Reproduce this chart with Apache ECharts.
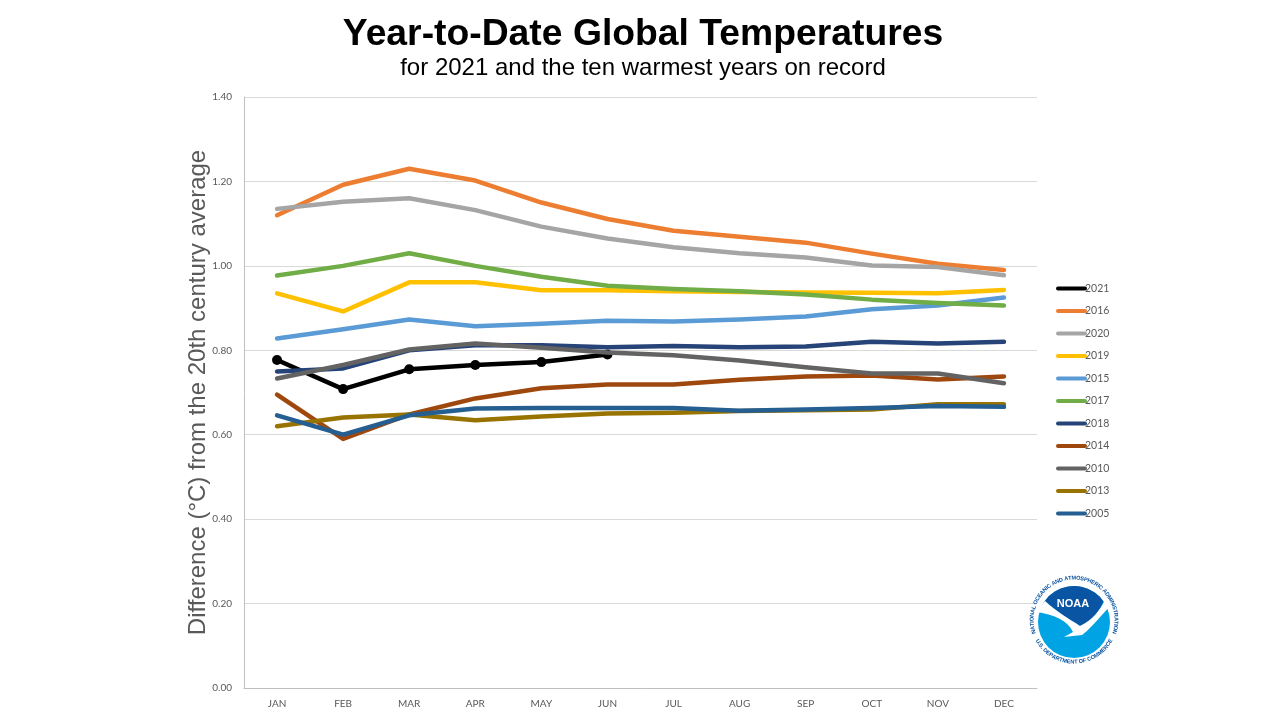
<!DOCTYPE html>
<html><head><meta charset="utf-8">
<style>html,body{margin:0;padding:0;background:#fff}#c{width:1280px;height:720px}</style>
<script src="https://cdn.jsdelivr.net/npm/echarts@6/dist/echarts.min.js"></script>
</head><body><div id="c"></div>
<script>
const months=['JAN','FEB','MAR','APR','MAY','JUN','JUL','AUG','SEP','OCT','NOV','DEC'];
const y2021=[0.777,0.708,0.755,0.765,0.772,0.79];
const y2016=[1.12,1.192,1.23,1.202,1.15,1.111,1.083,1.069,1.055,1.029,1.005,0.99];
const y2020=[1.135,1.152,1.16,1.132,1.093,1.065,1.044,1.03,1.02,1.001,0.997,0.978];
const y2019=[0.935,0.892,0.961,0.961,0.942,0.942,0.94,0.938,0.937,0.936,0.935,0.943];
const y2015=[0.828,0.85,0.873,0.857,0.863,0.87,0.868,0.873,0.88,0.897,0.906,0.925];
const y2017=[0.977,1.0,1.03,1.0,0.974,0.953,0.945,0.94,0.932,0.92,0.912,0.906];
const y2018=[0.75,0.757,0.8,0.812,0.812,0.807,0.81,0.807,0.809,0.82,0.816,0.82];
const y2014=[0.695,0.59,0.648,0.686,0.71,0.719,0.719,0.73,0.738,0.74,0.731,0.738];
const y2010=[0.733,0.765,0.802,0.816,0.806,0.795,0.788,0.776,0.76,0.745,0.745,0.722];
const y2013=[0.62,0.641,0.648,0.634,0.643,0.65,0.652,0.656,0.658,0.66,0.672,0.672];
const y2005=[0.646,0.6,0.646,0.662,0.663,0.663,0.663,0.657,0.66,0.663,0.668,0.666];
const seriesDefs=[['2021',y2021,'#000000'],['2016',y2016,'#ed7d31'],['2020',y2020,'#a5a5a5'],['2019',y2019,'#ffc000'],['2015',y2015,'#5b9bd5'],['2017',y2017,'#70ad47'],['2018',y2018,'#264478'],['2014',y2014,'#9e480e'],['2010',y2010,'#636363'],['2013',y2013,'#997300'],['2005',y2005,'#255e91']];
const topRing='NATIONAL OCEANIC AND ATMOSPHERIC ADMINISTRATION';
const bottomRing='U.S. DEPARTMENT OF COMMERCE';
const cx=1074,cy=620,ringR=42,logoBlue='#0a55a3',logoCyan='#00a3e4';
echarts.graphic.registerShape('noaaDome',echarts.graphic.extendShape({buildPath(c){
  c.moveTo(1045,601);c.arc(1074,622,36,Math.atan2(-21,-29),Math.atan2(-22,31));
  c.bezierCurveTo(1100,610,1093,620,1080,626);c.bezierCurveTo(1068,618,1058,613,1045,601);c.closePath();
}}));
echarts.graphic.registerShape('noaaBird',echarts.graphic.extendShape({buildPath(c){
  c.moveTo(1037,612);c.bezierCurveTo(1055,615,1067,620,1073,632);c.lineTo(1064,637);c.lineTo(1082,635);
  c.bezierCurveTo(1095,625,1103,612,1111,606);c.lineTo(1105,600);
  c.bezierCurveTo(1100,610,1093,620,1080,626);c.bezierCurveTo(1068,618,1058,613,1045,601);c.closePath();
}}));
function ringChars(){
  const out=[];
  const font='bold 5.6px "Liberation Sans"';
  const m=document.createElement('canvas').getContext('2d');m.font=font;
  const add=(str,a0,a1,bottom)=>{
    const chars=[...str];
    const w=chars.map(ch=>m.measureText(ch).width);
    const total=w.reduce((s,v)=>s+v,0);
    let acc=0;
    chars.forEach((ch,i)=>{
      const a=a0+(a1-a0)*(acc+w[i]/2)/total;acc+=w[i];
      out.push({type:'text',x:cx+ringR*Math.cos(a),y:cy+ringR*Math.sin(a),rotation:bottom?-(a-Math.PI/2):-(a+Math.PI/2),
        style:{text:ch,fill:logoBlue,font,textAlign:'center',textVerticalAlign:'middle'},silent:true,z:20});
    });
  };
  add(topRing,Math.PI*0.894,Math.PI*2.106,false);
  add(bottomRing,Math.PI*0.845,Math.PI*0.155,true);
  return out;
}
const logo=[
 {type:'circle',shape:{cx:1074,cy:622,r:36},style:{fill:logoCyan},silent:true,z:10},
 {type:'noaaDome',shape:{},style:{fill:logoBlue},silent:true,z:11},
 {type:'noaaBird',shape:{},style:{fill:'#ffffff'},silent:true,z:12},
 {type:'text',x:1073,y:604,style:{text:'NOAA',fill:'#fff',font:'bold 11px "Liberation Sans"',textAlign:'center',textVerticalAlign:'middle'},silent:true,z:13}
].concat(ringChars());
const chart=echarts.init(document.getElementById('c'),null,{renderer:'canvas'});
chart.setOption({
 animation:false,backgroundColor:'#fff',
 title:[{text:'Year-to-Date Global Temperatures',left:643,top:16,padding:0,textAlign:'center',textStyle:{fontFamily:'"Liberation Sans"',fontSize:37.3,fontWeight:'bold',color:'#000'}},
        {text:'for 2021 and the ten warmest years on record',left:643,top:56,padding:0,textAlign:'center',textStyle:{fontFamily:'"Liberation Sans"',fontSize:24,fontWeight:'normal',color:'#000'}}],
 grid:{left:244,right:243,top:97,bottom:32},
 legend:{orient:'vertical',left:1056,top:283,padding:0,itemWidth:27,itemHeight:4,itemGap:11.5,
   lineStyle:{width:4,cap:'round'},
   data:seriesDefs.map(s=>s[0]),textStyle:{fontFamily:'Lato',fontSize:10.5,color:'#595959',padding:[0,0,0,-5]}},
 xAxis:{type:'category',data:months,boundaryGap:true,axisLine:{lineStyle:{color:'#bfbfbf',width:1}},axisTick:{show:false},
   axisLabel:{fontFamily:'Lato',fontSize:10,color:'#595959',margin:11},splitLine:{show:false}},
 yAxis:{type:'value',min:0,max:1.4,interval:0.2,
   name:'Difference (°C) from the 20th century average',nameLocation:'middle',nameGap:34,nameRotate:90,nameMoveOverlap:false,
   nameTextStyle:{fontFamily:'"Liberation Sans"',fontSize:24,color:'#595959'},
   axisLine:{show:true,lineStyle:{color:'#bfbfbf',width:1}},axisTick:{show:false},
   axisLabel:{fontFamily:'Lato',fontSize:10,color:'#595959',margin:12,formatter:v=>v.toFixed(2)},
   splitLine:{lineStyle:{color:'#d9d9d9',width:1}}},
 series:seriesDefs.map(([name,data,color],i)=>({name,type:'line',data,smooth:false,
   symbol:i===0?'circle':'none',symbolSize:10,showSymbol:i===0,
   lineStyle:{color,width:4.5,cap:'round',join:'round'},itemStyle:{color},z:2+i})),
 graphic:logo
});
</script></body></html>
